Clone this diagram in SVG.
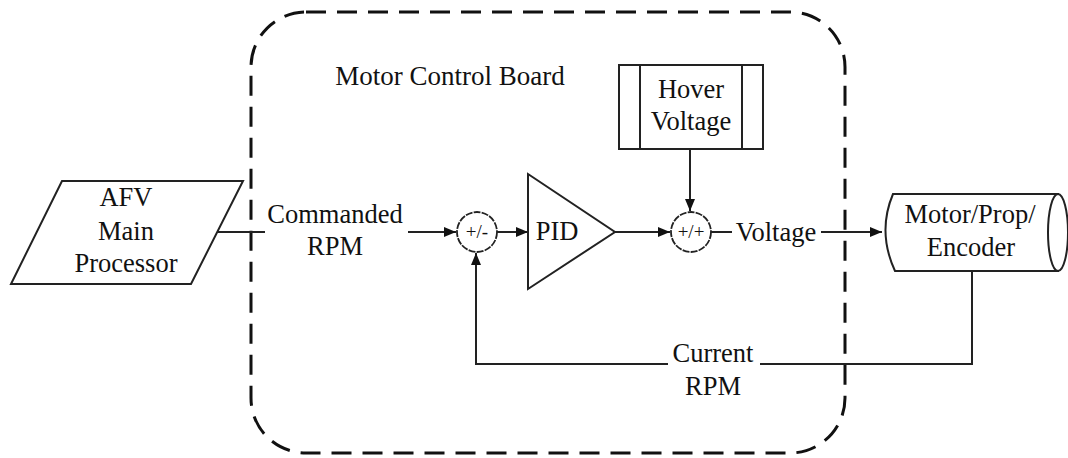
<svg xmlns="http://www.w3.org/2000/svg" width="1068" height="458" viewBox="0 0 1068 458">
<defs>
<style>
text{font-family:"Liberation Serif","Times New Roman",serif;font-size:26.5px;fill:#111;text-anchor:middle}
text.sm{font-size:19px}
.ln{fill:none;stroke:#222;stroke-width:2}
.shape{fill:#fff;stroke:#222;stroke-width:2}
.sum{fill:#fff;stroke:#222;stroke-width:1.8;stroke-dasharray:7 1.2}
.board{fill:none;stroke:#111;stroke-width:3;stroke-dasharray:20 11}
</style>
<marker id="ah" viewBox="0 0 12 10" refX="12" refY="5" markerWidth="12" markerHeight="10" markerUnits="userSpaceOnUse" orient="auto">
<path d="M0,0 L12,5 L0,10 Z" fill="#111"/>
</marker>
</defs>
<rect width="1068" height="458" fill="#fff"/>

<g id="board">
<rect class="board" x="251" y="12" width="594" height="441" rx="55" ry="55"/>
<text x="450" y="85" style="font-size:27px">Motor Control Board</text>
</g>

<g id="connectors">
<line class="ln" x1="218" y1="232" x2="265" y2="232"/>
<line class="ln" x1="408" y1="232" x2="456" y2="232" marker-end="url(#ah)"/>
<line class="ln" x1="497" y1="232" x2="528" y2="232" marker-end="url(#ah)"/>
<line class="ln" x1="615" y1="232" x2="670" y2="232" marker-end="url(#ah)"/>
<line class="ln" x1="690" y1="149" x2="690" y2="211" marker-end="url(#ah)"/>
<line class="ln" x1="711" y1="232" x2="732" y2="232"/>
<line class="ln" x1="821" y1="232" x2="882" y2="232" marker-end="url(#ah)"/>
<polyline class="ln" points="972,271 972,364 760,364"/>
<polyline class="ln" points="668,364 476,364 476,253" marker-end="url(#ah)"/>
<text x="335" y="223">Commanded</text>
<text x="335" y="255">RPM</text>
<text x="776" y="241">Voltage</text>
<text x="713" y="362">Current</text>
<text x="713" y="395">RPM</text>
</g>

<g id="afv">
<polygon class="shape" points="62,181 243,181 191,284 11,284"/>
<text x="126" y="206">AFV</text>
<text x="126" y="240">Main</text>
<text x="126" y="272">Processor</text>
</g>

<g id="sum1">
<circle class="sum" cx="477" cy="232" r="20"/>
<text class="sm" x="477" y="238">+/-</text>
</g>

<g id="pid">
<polygon class="shape" points="528,174 615,232 528,289"/>
<text x="557" y="240">PID</text>
</g>

<g id="hover">
<rect class="shape" x="619" y="65" width="144" height="84"/>
<line class="ln" x1="640" y1="65" x2="640" y2="149"/>
<line class="ln" x1="742" y1="65" x2="742" y2="149"/>
<text x="691" y="98">Hover</text>
<text x="691" y="130">Voltage</text>
</g>

<g id="sum2">
<circle class="sum" cx="691" cy="232" r="20"/>
<text class="sm" x="691" y="238">+/+</text>
</g>

<g id="motor">
<path class="shape" d="M893,194 L1058,194 L1058,271 L895,271 Q877,232 893,194 Z"/>
<ellipse class="shape" cx="1058" cy="232.5" rx="10" ry="38.5"/>
<text x="970" y="223">Motor/Prop/</text>
<text x="971" y="256">Encoder</text>
</g>
</svg>
